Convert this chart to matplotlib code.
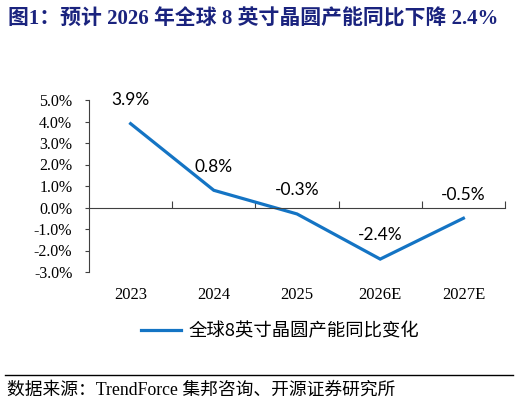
import matplotlib
matplotlib.use("Agg")
import matplotlib.pyplot as plt
import matplotlib.transforms as mtransforms

plt.rcParams['font.family'] = ['Liberation Serif', 'Noto Sans CJK SC', 'DejaVu Sans']

years = ['2023', '2024', '2025', '2026E', '2027E']
yoy = [3.9, 0.8, -0.3, -2.4, -0.5]
yticks = [5, 4, 3, 2, 1, 0, -1, -2, -3]

title = '图1：预计 2026 年全球 8 英寸晶圆产能同比下降 2.4%'
series_name = '全球8英寸晶圆产能同比变化'
source = '数据来源：TrendForce 集邦咨询、开源证券研究所'

blue = '#1474C4'
navy = '#1A237E'

fig = plt.figure(figsize=(5.22, 4.05), dpi=100)
ax = fig.add_axes([89/522, 1-272/405, 416/522, 172/405])

x = list(range(len(years)))
ax.plot(x, yoy, color=blue, lw=2.3, solid_joinstyle='miter', label=series_name)

for xi, v in zip(x, yoy):
    ax.annotate(f'{v:.1f}%', (xi, v), xytext=(0, 17), textcoords='offset points',
                ha='center', va='center', fontsize=12.5, family=['Lato', 'DejaVu Sans'])

ax.set_xlim(-0.5, len(years) - 0.5)
ax.set_ylim(-3, 5)
ax.set_yticks(yticks)
ax.set_yticklabels([f'{t:.1f}%' for t in yticks], fontsize=11.5)
ax.tick_params(axis='y', direction='out', length=3, width=0.8, pad=9, colors='#404040', labelcolor='black')

for s in ['top', 'right']:
    ax.spines[s].set_visible(False)
ax.spines['left'].set_color('#404040')
ax.spines['bottom'].set_position(('data', 0))
ax.spines['bottom'].set_color('#404040')

# boundary ticks on the zero line
ax.set_xticks([i + 0.5 for i in range(len(years))])
ax.tick_params(axis='x', direction='in', length=5, width=0.8, labelbottom=False, colors='#404040')

trans = mtransforms.blended_transform_factory(ax.transData, ax.transAxes)
for xi, lab in zip(x, years):
    ax.text(xi, -0.135, lab, transform=trans, ha='center', va='center', fontsize=12)

fig.legend(loc='center', bbox_to_anchor=(0.536, 1 - 331/405), frameon=False,
           handlelength=2.2, handletextpad=0.4,
           prop={'family': ['Noto Sans CJK SC'], 'size': 13.2})

fig.text(8/522, 1 - 19/405, title, color=navy, fontsize=15, fontweight='bold',
         ha='left', va='center')

fig.add_artist(plt.Line2D([5/522, 513/522], [1 - 375/405] * 2, color='black', lw=1))
fig.text(7/522, 1 - 390/405, source, fontsize=12.8, ha='left', va='center')

fig.savefig('out.png', dpi=100)
